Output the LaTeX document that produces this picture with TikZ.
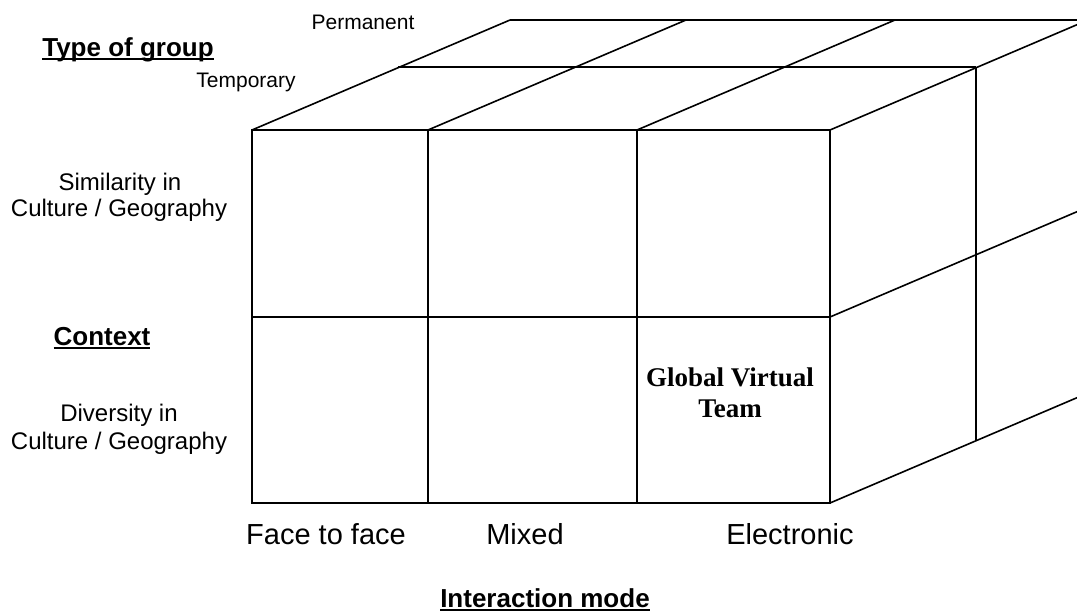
\documentclass[tikz,border=0pt]{standalone}
\usepackage{fontspec}
\setmainfont{Liberation Sans}
\newfontfamily\tnr{Liberation Serif}
\newcommand\myul[1]{\leavevmode\setbox0=\hbox{#1}\rlap{\rule[-0.16em]{\wd0}{0.075em}}\box0}
\begin{document}
\begin{tikzpicture}[x=1pt,y=-1pt,
  edge/.style={line width=1.6pt},
  small/.style={anchor=base, inner sep=0pt, font=\fontsize{21}{24}\selectfont},
  side/.style={anchor=base, inner sep=0pt, font=\fontsize{24}{27}\selectfont},
  big/.style={anchor=base, inner sep=0pt, font=\fontsize{29}{33}\selectfont},
  head/.style={anchor=base, inner sep=0pt, font=\fontsize{26}{30}\selectfont\bfseries},
  cell/.style={anchor=base, inner sep=0pt, font=\fontsize{27}{31}\selectfont\tnr\bfseries}]
\useasboundingbox (0,0) rectangle (1077,616);
\begin{scope}
\clip (0,0) rectangle (1077,616);
% front face grid
\coordinate (f00) at (252,130); \coordinate (f30) at (830,130);
\coordinate (f02) at (252,503); \coordinate (f32) at (830,503);
\draw[edge] (f00) rectangle (f32);
\draw[edge] (428,130) -- (428,503);
\draw[edge] (637,130) -- (637,503);
\draw[edge] (252,317) -- (830,317);
% top face
\draw[edge] (398,67) -- (976,67);
\draw[edge] (510,20) -- (1088,20);
\foreach \x in {252,428,637,830}{
  \draw[edge] (\x,130) -- ++(258,-110);
}
% right face
\draw[edge] (976,67) -- (976,440);
\draw[edge] (1088,20) -- (1088,393);
\draw[edge] (830,317) -- ++(258,-110);
\draw[edge] (830,503) -- ++(258,-110);
\end{scope}
% labels
\node[small] (perm) at (363,29) {Permanent};
\node[small] (temp) at (246,87) {Temporary};
\node[head] (type) at (128,56) {\myul{Type of group}};
\node[side] (sim1) at (120,190) {Similarity in};
\node[side] (sim2) at (119,216) {Culture / Geography};
\node[head] (ctx) at (102,345) {\myul{Context}};
\node[side] (div1) at (119,421) {Diversity in};
\node[side] (div2) at (119,449) {Culture / Geography};
\node[cell] (gvt1) at (730,386) {Global Virtual};
\node[cell] (gvt2) at (730,417) {Team};
\node[big] (ff) at (326,544) {Face to face};
\node[big] (mix) at (525,544) {Mixed};
\node[big] (ele) at (790,544) {Electronic};
\node[head] (im) at (545,607) {\myul{Interaction mode}};
\end{tikzpicture}
\end{document}
